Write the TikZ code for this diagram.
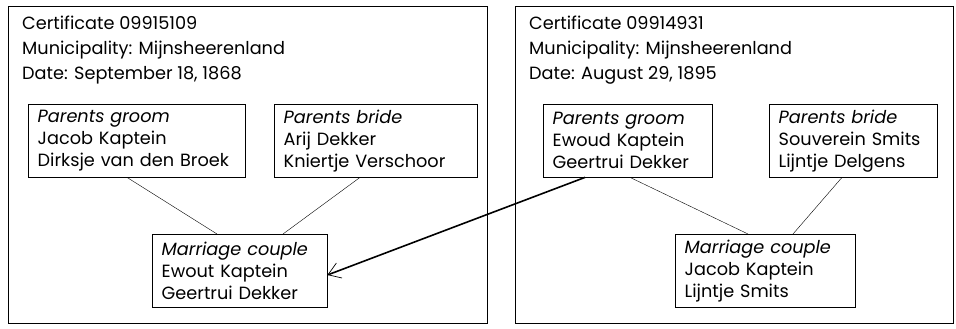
\documentclass[tikz,border=0pt]{standalone}
\usepackage{fontspec}
\setmainfont{Poppins}
\usetikzlibrary{arrows.meta}

\begin{document}
\begin{tikzpicture}[x=1pt, y=-1pt, cert node/.style={draw, anchor=north west, inner sep=0pt, minimum height=317pt},
    head node/.style={anchor=north west, align=left, inner sep=0pt, font=\fontsize{17.7}{25}\selectfont},
    person node/.style={draw, anchor=north west, align=left, inner xsep=9.5pt, inner ysep=0pt, minimum height=73pt, text width=#1, font=\fontsize{17.7}{22}\selectfont},
    link/.style={thin}, copy link/.style={line width=1.6pt, -{Straight Barb[line width=0.7pt, length=12pt, width=16pt]}}]
\useasboundingbox (0,0) rectangle (956,329);
% certificate 1868
\node[cert node, minimum width=479pt] (cert1) at (8,6) {};
\node[head node] (head1) at (22,16) {Certificate 09915109\\Municipality: Mijnsheerenland\\Date: September 18, 1868};
\node[person node=198pt] (groom1) at (28,104) {\textit{Parents groom}\\Jacob Kaptein\\Dirksje van den Broek};
\node[person node=184pt] (bride1) at (274,104) {\textit{Parents bride}\\Arij Dekker\\Kniertje Verschoor};
\node[person node=156pt] (couple1) at (152,234) {\textit{Marriage couple}\\Ewout Kaptein\\Geertrui Dekker};
% certificate 1895
\node[cert node, minimum width=438pt] (cert2) at (515,6) {};
\node[head node] (head2) at (529,16) {Certificate 09914931\\Municipality: Mijnsheerenland\\Date: August 29, 1895};
\node[person node=150pt] (groom2) at (543,104) {\textit{Parents groom}\\Ewoud Kaptein\\Geertrui Dekker};
\node[person node=149pt] (bride2) at (769,104) {\textit{Parents bride}\\Souverein Smits\\Lijntje Delgens};
\node[person node=161pt] (couple2) at (675,234) {\textit{Marriage couple}\\Jacob Kaptein\\Lijntje Smits};
\coordinate (g1) at ([xshift=99pt]groom1.south west);
\coordinate (b1) at ([xshift=86pt]bride1.south west);
\coordinate (c1l) at ([xshift=65pt]couple1.north west);
\coordinate (c1r) at ([xshift=131pt]couple1.north west);
\coordinate (g2) at ([xshift=87pt]groom2.south west);
\coordinate (b2) at ([xshift=73pt]bride2.south west);
\coordinate (c2l) at ([xshift=73pt]couple2.north west);
\coordinate (c2r) at ([xshift=118pt]couple2.north west);
\coordinate (from) at ([xshift=42pt]groom2.south west);
\coordinate (to) at ([yshift=-41pt]couple1.north east);
\draw[link] (g1) -- (c1l);
\draw[link] (b1) -- (c1r);
\draw[link] (g2) -- (c2l);
\draw[link] (b2) -- (c2r);
\draw[copy link] (from) -- (to);
\end{tikzpicture}
\end{document}
